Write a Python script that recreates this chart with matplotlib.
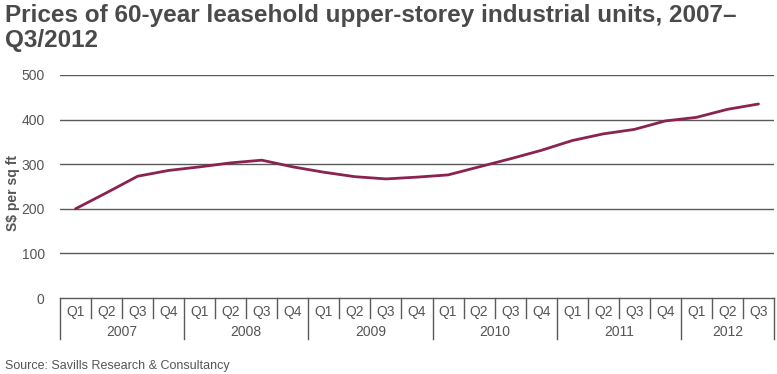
import matplotlib
matplotlib.use("Agg")
import matplotlib.pyplot as plt
import matplotlib.transforms as mtransforms
import numpy as np

# --- data (S$ per sq ft) ---
years = ["2007", "2008", "2009", "2010", "2011", "2012"]
quarters_per_year = [4, 4, 4, 4, 4, 3]
quarter_labels = ["Q1", "Q2", "Q3", "Q4"] * 5 + ["Q1", "Q2", "Q3"]
prices = [200, 236, 273, 286, 294, 303, 309, 294, 282, 272, 267, 271,
          276, 294, 312, 331, 353, 368, 378, 397, 405, 423, 435]
yticks = [0, 100, 200, 300, 400, 500]

TEXT = "#555555"
TITLE = "#4a4a4a"
LINE = "#8a2252"
GRID = "#5a5a5a"
sans = ["Liberation Sans", "DejaVu Sans"]

fig = plt.figure(figsize=(7.77, 3.74), dpi=100)
ax = fig.add_axes([60 / 777, 1 - 298 / 374, 714 / 777, 223 / 374])

x = np.arange(len(prices))
ax.plot(x, prices, color=LINE, linewidth=2.0, solid_capstyle="round", zorder=3)

ax.set_xlim(-0.5, len(prices) - 0.5)
ax.set_ylim(0, 500)
for y in yticks[1:]:
    ax.axhline(y, color=GRID, linewidth=1.0, zorder=1)
ax.set_yticks(yticks)
ax.set_yticklabels([str(v) for v in yticks], fontsize=10, color=TEXT, family=sans)
ax.tick_params(axis="y", length=0, pad=11)
ax.set_xticks([])
for s in ax.spines.values():
    s.set_visible(False)

# two-level category axis
trans = mtransforms.blended_transform_factory(ax.transData, ax.transAxes)
px = 1 / 223  # one pixel in axes-height units
ax.plot([-0.5, len(prices) - 0.5], [0, 0], transform=trans, color=GRID,
        linewidth=1.0, clip_on=False)
for i, q in enumerate(quarter_labels):
    ax.text(i, -14 * px, q, transform=trans, ha="center", va="center",
            fontsize=10, color=TEXT, family=sans)
start = 0
for yr, n in zip(years, quarters_per_year):
    ax.plot([start - 0.5, start - 0.5], [0, -41 * px], transform=trans,
            color=GRID, linewidth=1.0, clip_on=False)
    for k in range(1, n):
        ax.plot([start + k - 0.5] * 2, [0, -20 * px], transform=trans,
                color=GRID, linewidth=1.0, clip_on=False)
    ax.text(start + (n - 1) / 2, -34 * px, yr, transform=trans, ha="center",
            va="center", fontsize=10, color=TEXT, family=sans)
    start += n
ax.plot([start - 0.5, start - 0.5], [0, -41 * px], transform=trans,
        color=GRID, linewidth=1.0, clip_on=False)

fig.text(13 / 777, 1 - 193 / 374, "S$ per sq ft", rotation=90, ha="center",
         va="center", fontsize=10, color=TEXT, family=sans, fontweight="bold")
fig.text(5 / 777, 1 - 4 / 374,
         "Prices of 60-year leasehold upper-storey industrial units, 2007\u2013\nQ3/2012",
         ha="left", va="top", fontsize=17.5, fontweight="bold", color=TITLE,
         family=sans, linespacing=1.12)
fig.text(5 / 777, 1 - 366 / 374, "Source: Savills Research & Consultancy",
         ha="left", va="center", fontsize=9, color=TEXT, family=sans)

fig.savefig("out.png", dpi=100)
